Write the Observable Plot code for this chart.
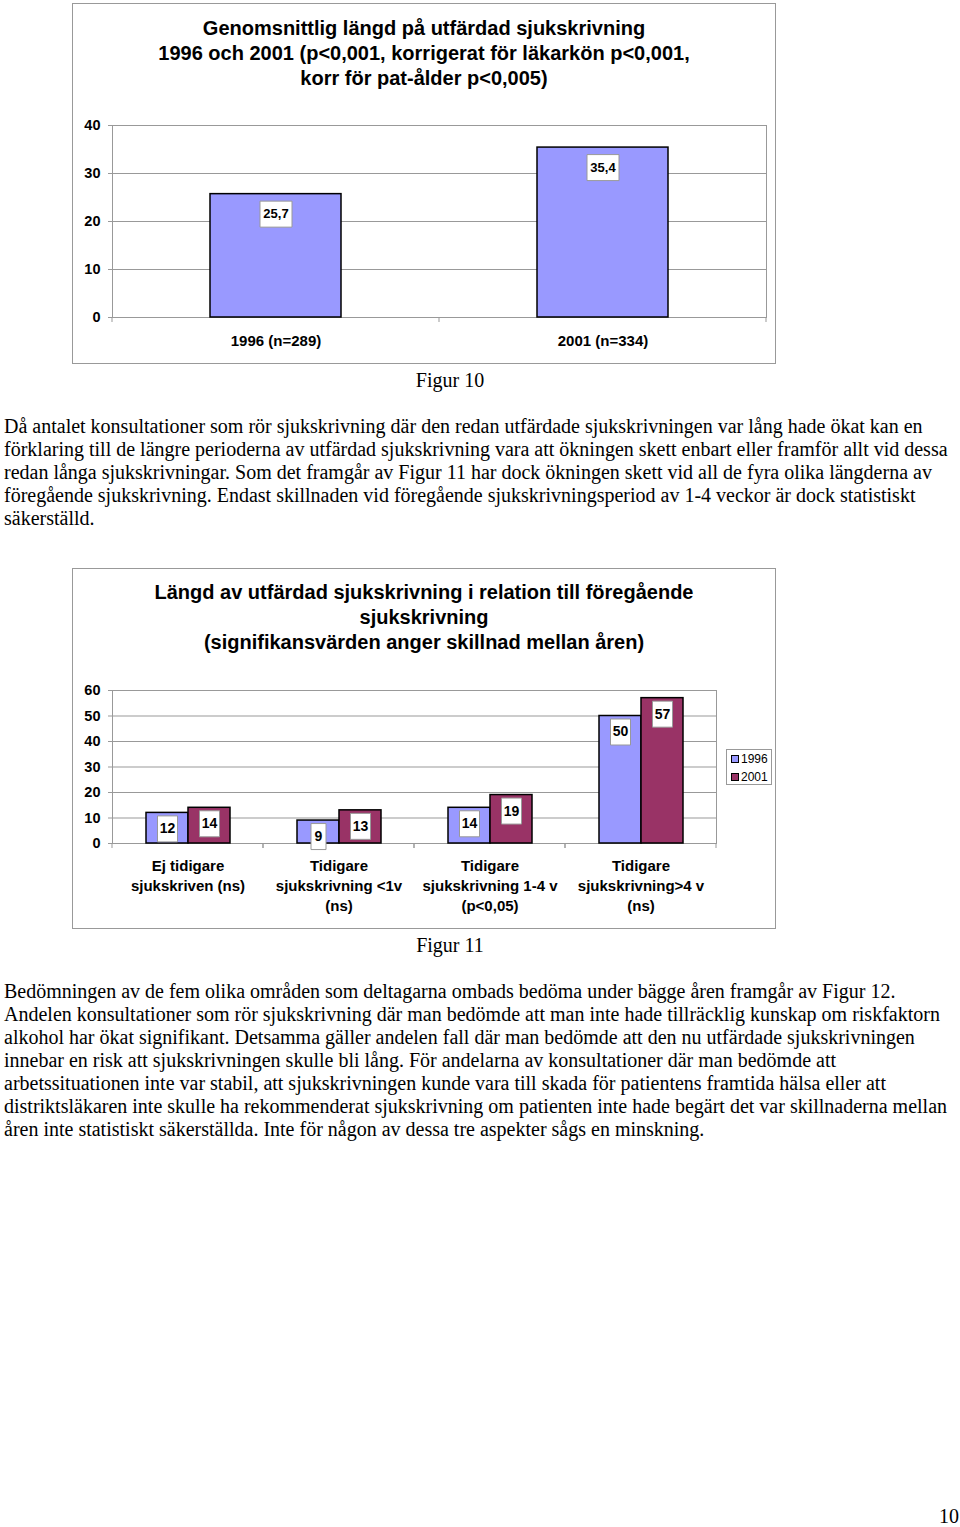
<!DOCTYPE html>
<html>
<head>
<meta charset="utf-8">
<script src="https://cdn.jsdelivr.net/npm/d3@7"></script>
<script src="https://cdn.jsdelivr.net/npm/@observablehq/plot@0.6"></script>
<style>
  html, body { margin: 0; padding: 0; background: #fff; }
  #page { position: relative; width: 960px; height: 1527px; background: #fff; overflow: hidden; color: #000; }
  .frame { position: absolute; border: 1px solid #999; box-sizing: border-box; }
  .ctitle { position: absolute; text-align: center; font: bold 20px/25px Arial, "Liberation Sans", sans-serif; }
  .chart { position: absolute; }
  .cap { position: absolute; width: 200px; text-align: center; font: 20px/23px "Times New Roman", "Liberation Serif", serif; }
  .txt { position: absolute; left: 4px; font: 20px/23px "Times New Roman", "Liberation Serif", serif; white-space: nowrap; }
  .legend { position: absolute; border: 1px solid #999; background: #fff; box-sizing: border-box; font: 12px/18px Arial, "Liberation Sans", sans-serif; padding: 0 0 0 4px; }
  .legend .sw { display: inline-block; width: 6px; height: 6px; border: 1px solid #000; margin-right: 2px; vertical-align: 0px; }
</style>
</head>
<body>
<div id="page">
  <div class="frame" style="left:72px;top:3px;width:704px;height:361px;"></div>
  <div class="ctitle" style="left:72px;top:16px;width:704px;">Genomsnittlig längd på utfärdad sjukskrivning<br>1996 och 2001 (p&lt;0,001, korrigerat för läkarkön p&lt;0,001,<br>korr för pat-ålder p&lt;0,005)</div>
  <div class="chart" id="chart1" style="left:72px;top:110px;"></div>
  <div class="cap" style="left:350px;top:369px;">Figur 10</div>
  <div class="txt" style="top:415px;">Då antalet konsultationer som rör sjukskrivning där den redan utfärdade sjukskrivningen var lång hade ökat kan en<br>förklaring till de längre perioderna av utfärdad sjukskrivning vara att ökningen skett enbart eller framför allt vid dessa<br>redan långa sjukskrivningar. Som det framgår av Figur 11 har dock ökningen skett vid all de fyra olika längderna av<br>föregående sjukskrivning. Endast skillnaden vid föregående sjukskrivningsperiod av 1-4 veckor är dock statistiskt<br>säkerställd.</div>

  <div class="frame" style="left:72px;top:568px;width:704px;height:361px;"></div>
  <div class="ctitle" style="left:72px;top:580px;width:704px;">Längd av utfärdad sjukskrivning i relation till föregående<br>sjukskrivning<br>(signifikansvärden anger skillnad mellan åren)</div>
  <div class="chart" id="chart2" style="left:72px;top:675px;"></div>
  <div class="legend" id="legend2" style="left:726px;top:749px;width:46px;height:36px;"></div>
  <div class="cap" style="left:350px;top:934px;">Figur 11</div>
  <div class="txt" style="top:980px;">Bedömningen av de fem olika områden som deltagarna ombads bedöma under bägge åren framgår av Figur 12.<br>Andelen konsultationer som rör sjukskrivning där man bedömde att man inte hade tillräcklig kunskap om riskfaktorn<br>alkohol har ökat signifikant. Detsamma gäller andelen fall där man bedömde att den nu utfärdade sjukskrivningen<br>innebar en risk att sjukskrivningen skulle bli lång. För andelarna av konsultationer där man bedömde att<br>arbetssituationen inte var stabil, att sjukskrivningen kunde vara till skada för patientens framtida hälsa eller att<br>distriktsläkaren inte skulle ha rekommenderat sjukskrivning om patienten inte hade begärt det var skillnaderna mellan<br>åren inte statistiskt säkerställda. Inte för någon av dessa tre aspekter sågs en minskning.</div>
  <div class="txt" style="left:auto;right:1px;top:1505px;">10</div>
</div>
<script>
// ---------- Data ----------
const categories1 = ["1996 (n=289)", "2001 (n=334)"];
const values1 = [25.7, 35.4];
const yTicks1 = [0, 10, 20, 30, 40];

const categories2 = [
  "Ej tidigare\nsjukskriven (ns)",
  "Tidigare\nsjukskrivning <1v\n(ns)",
  "Tidigare\nsjukskrivning 1-4 v\n(p<0,05)",
  "Tidigare\nsjukskrivning>4 v\n(ns)"
];
const years2 = ["1996", "2001"];
const values1996 = [12, 9, 14, 50];
const values2001 = [14, 13, 19, 57];
const yTicks2 = [0, 10, 20, 30, 40, 50, 60];
const colors2 = ["#9999FF", "#993366"];

// ---------- Helpers ----------
const fmt = v => String(v).replace(".", ",");
const boxSymbol = (w, h) => ({
  draw(ctx) {
    ctx.moveTo(-w / 2, -h / 2);
    ctx.lineTo(w / 2, -h / 2);
    ctx.lineTo(w / 2, h / 2);
    ctx.lineTo(-w / 2, h / 2);
    ctx.closePath();
  }
});
// small ticks below the baseline at the band boundaries
const boundaryTicks = (n, len) => (index, scales, values, dims) => {
  const g = d3.create("svg:g").attr("stroke", "#999");
  const x0 = dims.marginLeft, x1 = dims.width - dims.marginRight;
  const y = dims.height - dims.marginBottom;
  for (let k = 0; k <= n; ++k) {
    const x = x0 + (k * (x1 - x0)) / n;
    g.append("line").attr("x1", x).attr("x2", x).attr("y1", y).attr("y2", y + len);
  }
  return g.node();
};
const fontStyle = {
  fontFamily: "Arial, 'Liberation Sans', sans-serif",
  fontWeight: "bold",
  fontSize: "14.5px",
  color: "#000",
  background: "transparent",
  overflow: "visible"
};

// ---------- Chart 1 ----------
const data1 = categories1.map((c, i) => ({cat: c, value: values1[i]}));
const chart1 = Plot.plot({
  width: 703, height: 250,
  marginLeft: 40, marginRight: 9, marginTop: 15, marginBottom: 43,
  style: fontStyle,
  x: {domain: categories1, paddingInner: 0.6, paddingOuter: 0.3, label: null},
  y: {domain: [0, 40], label: null},
  marks: [
    Plot.ruleY(yTicks1, {stroke: "#999"}),
    Plot.frame({stroke: "#999"}),
    Plot.axisY(yTicks1, {tickSize: 4, tickPadding: 8, stroke: "#999", fill: "#000", label: null, fontSize: 14.5}),
    Plot.axisX({tickSize: 0, tickPadding: 18, label: null, fill: "#000", fontSize: 15}),
    boundaryTicks(categories1.length, 5),
    Plot.barY(data1, {x: "cat", y: "value", fill: "#9999FF", stroke: "#000", strokeWidth: 1.5}),
    Plot.dot(data1, {x: "cat", y: "value", dy: 20, symbol: boxSymbol(32, 26), fill: "#fff", stroke: "#999", strokeWidth: 1}),
    Plot.text(data1, {x: "cat", y: "value", dy: 20, text: d => fmt(d.value), fontSize: 13, fontWeight: "bold", fill: "#000"})
  ]
});
document.getElementById("chart1").append(chart1);

// ---------- Chart 2 ----------
const data2 = categories2.flatMap((c, i) => [
  {cat: c, year: years2[0], value: values1996[i]},
  {cat: c, year: years2[1], value: values2001[i]}
]);
const chart2 = Plot.plot({
  width: 703, height: 250,
  marginLeft: 40, marginRight: 59, marginTop: 15, marginBottom: 82,
  style: fontStyle,
  fx: {domain: categories2, paddingInner: 0, paddingOuter: 0, label: null},
  x: {domain: years2, paddingInner: 0, paddingOuter: 0.756, axis: null, label: null},
  y: {domain: [0, 60], label: null},
  color: {domain: years2, range: colors2},
  marks: [
    Plot.ruleY(yTicks2, {stroke: "#999"}),
    Plot.frame({facet: "super", stroke: "#999"}),
    Plot.axisY(yTicks2, {tickSize: 4, tickPadding: 8, stroke: "#999", fill: "#000", label: null, fontSize: 14.5}),
    Plot.axisFx({anchor: "bottom", tickSize: 0, tickPadding: 13, lineHeight: 1.33, label: null, fill: "#000", fontSize: 15}),
    boundaryTicks(1, 5),
    Plot.barY(data2, {fx: "cat", x: "year", y: "value", fill: "year", stroke: "#000", strokeWidth: 1.5}),
    Plot.dot(data2, {fx: "cat", x: "year", y: "value", dy: 16, filter: d => fmt(d.value).length === 1, symbol: boxSymbol(15, 26), fill: "#fff", stroke: "#999", strokeWidth: 1}),
    Plot.dot(data2, {fx: "cat", x: "year", y: "value", dy: 16, filter: d => fmt(d.value).length !== 1, symbol: boxSymbol(20, 26), fill: "#fff", stroke: "#999", strokeWidth: 1}),
    Plot.text(data2, {fx: "cat", x: "year", y: "value", dy: 16, text: d => fmt(d.value), fontSize: 14, fontWeight: "bold", fill: "#000"})
  ]
});
document.getElementById("chart2").append(chart2);

// legend
const leg = document.getElementById("legend2");
years2.forEach((y, i) => {
  const row = document.createElement("div");
  row.innerHTML = `<span class="sw" style="background:${colors2[i]}"></span>${y}`;
  leg.append(row);
});
</script>
</body>
</html>
